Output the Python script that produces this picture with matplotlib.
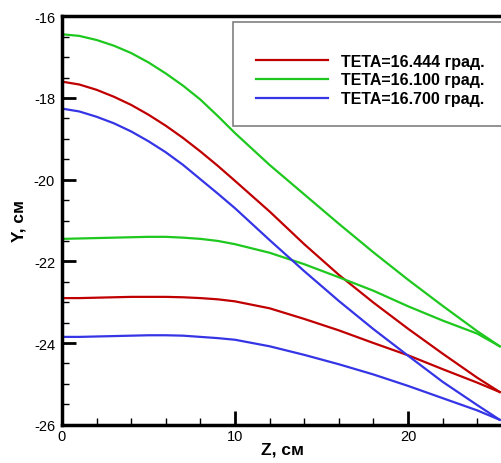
import matplotlib
matplotlib.use("Agg")
import matplotlib.pyplot as plt
from matplotlib.patches import Rectangle
from matplotlib.ticker import MultipleLocator

plt.rcParams['font.family'] = ['Liberation Sans', 'DejaVu Sans']
plt.rcParams['axes.unicode_minus'] = False

z = [0, 1, 2, 3, 4, 5, 6, 7, 8, 9, 10, 12, 14, 16, 18, 20, 22, 24, 25.3]

green_upper = [-16.44, -16.48, -16.58, -16.72, -16.90, -17.13, -17.40, -17.70, -18.04,
               -18.44, -18.86, -19.64, -20.36, -21.08, -21.78, -22.45, -23.09, -23.71, -24.08]
green_lower = [-21.45, -21.44, -21.43, -21.42, -21.41, -21.40, -21.40, -21.42, -21.45,
               -21.50, -21.58, -21.79, -22.07, -22.39, -22.72, -23.10, -23.45, -23.77, -24.08]
red_upper = [-17.60, -17.67, -17.80, -17.97, -18.17, -18.41, -18.68, -18.98, -19.31,
             -19.66, -20.03, -20.78, -21.58, -22.33, -23.01, -23.65, -24.26, -24.85, -25.20]
red_lower = [-22.90, -22.90, -22.89, -22.88, -22.87, -22.87, -22.87, -22.88, -22.90,
             -22.93, -22.98, -23.15, -23.41, -23.69, -24.00, -24.30, -24.64, -24.97, -25.20]
blue_upper = [-18.26, -18.33, -18.46, -18.62, -18.82, -19.06, -19.33, -19.64, -19.99,
              -20.34, -20.70, -21.48, -22.24, -22.97, -23.66, -24.31, -24.95, -25.52, -25.88]
blue_lower = [-23.85, -23.85, -23.84, -23.83, -23.82, -23.81, -23.81, -23.82, -23.85,
              -23.88, -23.92, -24.08, -24.29, -24.52, -24.77, -25.05, -25.35, -25.65, -25.88]

labels = ["TETA=16.444 град.", "TETA=16.100 град.", "TETA=16.700 град."]
colors = ["#c00000", "#1ec81e", "#3535e6"]

W, H = 502, 464
fig = plt.figure(figsize=(W / 100, H / 100), dpi=100)
ax = fig.add_axes([62 / W, (H - 425.7) / H, 441.2 / W, 408.4 / H])

series = [(red_upper, red_lower), (green_upper, green_lower), (blue_upper, blue_lower)]
handles = []
for (up, lo), c, lab in zip(series, colors, labels):
    h, = ax.plot(z, up, color=c, lw=1.6, label=lab)
    ax.plot(z, lo, color=c, lw=1.6)
    handles.append(h)

ax.set_xlim(0, 25.5)
ax.set_ylim(-26, -16)
ax.xaxis.set_major_locator(MultipleLocator(10))
ax.xaxis.set_minor_locator(MultipleLocator(2))
ax.yaxis.set_major_locator(MultipleLocator(2))
ax.yaxis.set_minor_locator(MultipleLocator(0.5))
ax.tick_params(which='major', direction='in', length=10, width=2, labelsize=10.5)
ax.tick_params(axis='x', which='major', pad=3)
ax.tick_params(axis='y', which='major', pad=5)
ax.tick_params(which='minor', direction='in', length=5, width=1)
for s in ax.spines.values():
    s.set_linewidth(2.5)
ax.spines['right'].set_visible(False)

ax.set_xlabel("Z, см", fontsize=12.5, fontweight='bold')
ax.xaxis.set_label_coords(0.5, -(443 - 425.7) / 408.4)
ax.set_ylabel("Y, см", fontsize=12.5, fontweight='bold')
ax.yaxis.set_label_coords(-(62 - 27) / 441.2, 0.5)

# legend box
rect = Rectangle((233 / W, 1 - 127 / H), 300 / W, 104 / H, transform=fig.transFigure,
                 facecolor='white', edgecolor='#808080', lw=1.2, zorder=5)
fig.patches.append(rect)
leg = fig.legend(handles=handles, labels=labels, loc='upper left',
                 bbox_to_anchor=(256 / W, 1 - 54.5 / H), frameon=False,
                 prop={'weight': 'bold', 'size': 11.5}, handlelength=4.5,
                 handletextpad=0.8, labelspacing=0.25, borderaxespad=0, borderpad=0)
leg.set_zorder(6)

fig.savefig("out.png", dpi=100)
